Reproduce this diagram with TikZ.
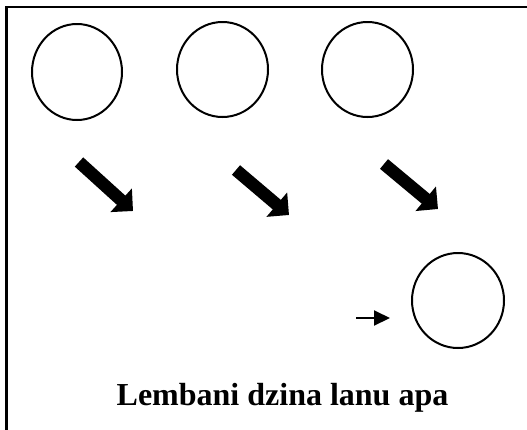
\documentclass[tikz,border=0pt]{standalone}
\usepackage{fontspec}
\setmainfont{Liberation Serif}
\usetikzlibrary{shapes.geometric,arrows.meta}
\tikzset{
  ring/.style={draw, ellipse, line width=2pt, inner sep=0pt, minimum width=91pt, minimum height=95pt},
  bigarrow/.style={line width=12.5pt, -{Triangle[length=16pt,width=31pt]}},
  smallarrow/.style={line width=2pt, -{Triangle[length=16pt,width=15pt]}},
  frameline/.style={line width=2.6pt},
  caption/.style={font=\fontsize{32}{38}\selectfont\bfseries, inner sep=0pt, anchor=base}
}
\begin{document}
\begin{tikzpicture}[x=1pt,y=-1pt]
\useasboundingbox (0,0) rectangle (527,429);
% frame (top and left edges)
\coordinate (fbl) at (6.5,430);
\coordinate (ftl) at (6.5,6.8);
\coordinate (ftr) at (528,6.8);
\draw[frameline] (fbl) -- (ftl) -- (ftr);
% circles
\node[ring, minimum width=90pt, minimum height=96pt] (c1) at (77,72) {};
\node[ring] (c2) at (222.5,69.5) {};
\node[ring] (c3) at (367.5,69.5) {};
\node[ring, minimum width=92pt] (c4) at (458,300.5) {};
% thick arrows
\coordinate (a1s) at (79,162);
\coordinate (a1e) at (133,211);
\coordinate (a2s) at (236,170);
\coordinate (a2e) at (289,215);
\coordinate (a3s) at (384,164);
\coordinate (a3e) at (438,209);
\draw[bigarrow] (a1s) -- (a1e);
\draw[bigarrow] (a2s) -- (a2e);
\draw[bigarrow] (a3s) -- (a3e);
% small arrow
\coordinate (s1) at (356,318);
\coordinate (s2) at (390,318);
\draw[smallarrow] (s1) -- (s2);
% caption
\node[caption] (t) at (282.5,405) {Lembani dzina lanu apa};
\end{tikzpicture}
\end{document}
